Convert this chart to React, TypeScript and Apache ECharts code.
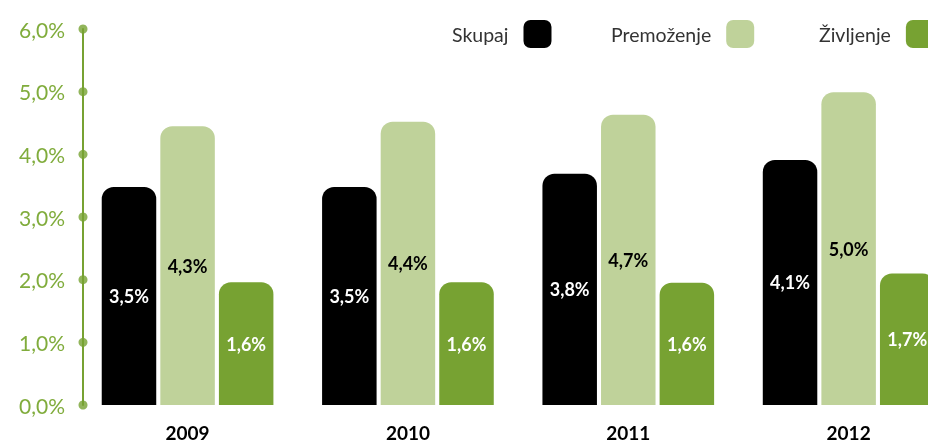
import React, { useEffect, useRef } from "react";
import * as echarts from "echarts";

const years = ["2009", "2010", "2011", "2012"];
const seriesNames = ["Skupaj", "Premoženje", "Življenje"];
// bar heights as drawn in the picture (percent)
const skupajHeights = [3.48, 3.48, 3.69, 3.91];
const premozenjeHeights = [4.45, 4.52, 4.63, 4.99];
const zivljenjeHeights = [1.96, 1.96, 1.95, 2.1];
// values printed on the bars
const skupajLabels = ["3,5%", "3,5%", "3,8%", "4,1%"];
const premozenjeLabels = ["4,3%", "4,4%", "4,7%", "5,0%"];
const zivljenjeLabels = ["1,6%", "1,6%", "1,6%", "1,7%"];
const yTicks = [0, 1, 2, 3, 4, 5, 6];

const COLORS = ["#000000", "#bfd29a", "#77a232"];
const AXIS_GREEN = "#77a232";
const FONT = "Lato";

export default function App() {
  const ref = useRef<HTMLDivElement>(null);
  useEffect(() => {
    if (!ref.current) return;
    const chart = echarts.init(ref.current, null, { renderer: "svg" });
    const heights = [skupajHeights, premozenjeHeights, zivljenjeHeights];
    const labels = [skupajLabels, premozenjeLabels, zivljenjeLabels];
    const labelColors = ["#ffffff", "#000000", "#ffffff"];
    const legendLefts = [447, 606, 814];
    chart.setOption({
      animation: false,
      legend: seriesNames.map((n, i) => ({
        data: [n],
        left: legendLefts[i],
        top: 15,
        align: "right",
        itemWidth: 28,
        itemHeight: 28,
        icon: "roundRect",
        selectedMode: false,
        textStyle: { fontFamily: FONT, fontSize: 19.5, color: "#333333", padding: [0, 10, 0, 0] },
      })),
      grid: [
        { left: 77.4, right: -30.8, top: 29, bottom: 38, outerBoundsMode: "none" },
        { left: 83, width: 20, top: 29, bottom: 38, outerBoundsMode: "none" },
      ],
      xAxis: [
        {
          type: "category",
          gridIndex: 0,
          data: years,
          axisLine: { show: false },
          axisTick: { show: false },
          axisLabel: { fontFamily: FONT, fontWeight: "bold", fontSize: 19, color: "#000", margin: 18 },
        },
        { type: "value", gridIndex: 1, min: 0, max: 1, show: false },
      ],
      yAxis: [
        { type: "value", gridIndex: 0, min: 0, max: 6, interval: 1, show: false },
        {
          type: "value",
          gridIndex: 1,
          min: 0,
          max: 6,
          interval: 1,
          axisLine: { show: true, lineStyle: { color: AXIS_GREEN, width: 2 } },
          axisTick: { show: false },
          splitLine: { show: false },
          axisLabel: {
            fontFamily: FONT,
            fontSize: 21,
            color: "#80ac3c",
            margin: 18,
            formatter: (v: number) => v.toFixed(1).replace(".", ",") + "%",
          },
        },
      ],
      series: [
        ...seriesNames.map((n, i) => ({
          name: n,
          type: "bar",
          xAxisIndex: 0,
          yAxisIndex: 0,
          data: heights[i],
          barWidth: 54.5,
          barGap: "7.5%",
          itemStyle: { color: COLORS[i], borderRadius: [12, 12, 0, 0] },
          label: {
            show: true,
            position: "inside",
            fontFamily: FONT,
            fontWeight: "bold",
            fontSize: 18,
            color: labelColors[i],
            formatter: (p: any) => labels[i][p.dataIndex],
          },
        })),
        {
          name: "ticks",
          type: "scatter",
          xAxisIndex: 1,
          yAxisIndex: 1,
          data: yTicks.map((t) => [0, t]),
          symbolSize: 9,
          clip: false,
          silent: true,
          itemStyle: { color: AXIS_GREEN },
        },
      ],
    });
    return () => chart.dispose();
  }, []);
  return (
    <div
      ref={ref}
      style={{ position: "fixed", left: 0, top: 0, width: 928, height: 443, overflow: "hidden" }}
    />
  );
}
